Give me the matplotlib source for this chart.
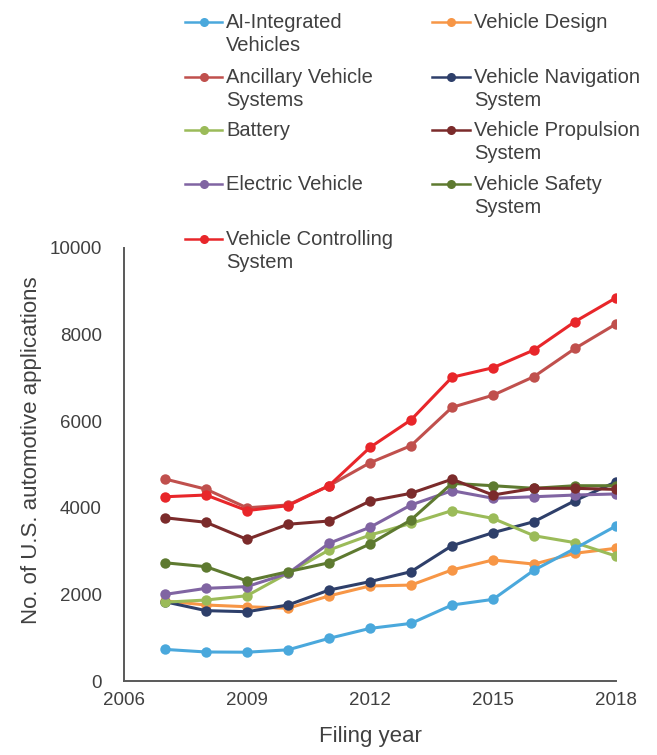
import numpy as np
import matplotlib
matplotlib.use('Agg')
import matplotlib.pyplot as plt
from matplotlib.lines import Line2D

plt.rcParams['font.family'] = ['Liberation Sans', 'DejaVu Sans']

# ── data ──────────────────────────────────────────────────────────────────────
years = [2007, 2008, 2009, 2010, 2011, 2012, 2013, 2014, 2015, 2016, 2017, 2018]

ai_integrated = [730, 670, 665, 720, 985, 1215, 1330, 1755, 1885, 2560, 3060, 3580]
ancillary     = [4665, 4430, 4000, 4065, 4510, 5040, 5435, 6320, 6600, 7030, 7680, 8245]
battery       = [1820, 1870, 1970, 2490, 3025, 3370, 3640, 3935, 3755, 3355, 3195, 2885]
electric      = [2000, 2140, 2180, 2485, 3180, 3550, 4065, 4395, 4220, 4255, 4295, 4320]
controlling   = [4255, 4295, 3935, 4050, 4510, 5395, 6030, 7015, 7235, 7645, 8300, 8850]
design        = [1850, 1755, 1715, 1680, 1965, 2195, 2215, 2565, 2795, 2700, 2950, 3065]
navigation    = [1830, 1625, 1600, 1755, 2100, 2295, 2525, 3125, 3425, 3680, 4165, 4600]
propulsion    = [3770, 3665, 3270, 3620, 3695, 4155, 4335, 4660, 4295, 4450, 4450, 4425]
safety        = [2730, 2640, 2310, 2525, 2730, 3165, 3720, 4565, 4510, 4450, 4510, 4510]

series = [
    ('AI-Integrated\nVehicles',        ai_integrated, '#4AA8DC'),
    ('Ancillary Vehicle\nSystems',     ancillary,     '#C0504D'),
    ('Battery',                        battery,       '#9BBB59'),
    ('Electric Vehicle',               electric,      '#8064A2'),
    ('Vehicle Controlling\nSystem',    controlling,   '#E8262A'),
    ('Vehicle Design',                 design,        '#F79646'),
    ('Vehicle Navigation\nSystem',     navigation,    '#2E3F6A'),
    ('Vehicle Propulsion\nSystem',     propulsion,    '#7B2B2B'),
    ('Vehicle Safety\nSystem',         safety,        '#5E7A30'),
]
# draw order: bottom-most lines first, red on top
draw_order = [5, 6, 2, 3, 8, 7, 0, 1, 4]

TXT = '#404040'
W, H = 657, 755

fig = plt.figure(figsize=(W / 100, H / 100), dpi=100)
ax = fig.add_axes([124 / W, 74 / H, 492 / W, 433 / H])

for i in draw_order:
    label, vals, col = series[i]
    ax.plot(years, vals, color=col, linewidth=2.2, marker='o',
            markersize=7.5, markeredgewidth=0)

ax.set_xlim(2006, 2018)
ax.set_ylim(0, 10000)
ax.set_xticks([2006, 2009, 2012, 2015, 2018])
ax.set_yticks([0, 2000, 4000, 6000, 8000, 10000])
ax.tick_params(axis='both', length=0, labelsize=13.5, colors=TXT)
ax.tick_params(axis='y', pad=16)
ax.tick_params(axis='x', pad=8)

for s in ('top', 'right'):
    ax.spines[s].set_visible(False)
for s in ('left', 'bottom'):
    ax.spines[s].set_color('#595959')
    ax.spines[s].set_linewidth(1.4)

ax.set_xlabel('Filing year', fontsize=16, color=TXT)
ax.set_ylabel('No. of U.S. automotive applications', fontsize=16, color=TXT)
ax.xaxis.set_label_coords(0.5, -0.105)
ax.yaxis.set_label_coords(-0.167, 0.533)

# ── legend, two columns above the axes ────────────────────────────────────────
col_x = [(185, 222, 226), (432, 470, 474)]   # line start, line end, text x
row_y = [22, 77, 130, 184, 239]
slots = [(0, 0), (0, 1), (0, 2), (0, 3), (0, 4),
         (1, 0), (1, 1), (1, 2), (1, 3)]

for (label, vals, col), (c, r) in zip(series, slots):
    x0, x1, xt = col_x[c]
    y = 1 - row_y[r] / H
    fig.add_artist(Line2D([x0 / W, x1 / W], [y, y], transform=fig.transFigure,
                          color=col, linewidth=1.8))
    fig.add_artist(Line2D([(x0 + x1) / 2 / W], [y], transform=fig.transFigure,
                          color=col, marker='o', markersize=6.5,
                          markeredgewidth=0, linestyle='none'))
    # first text line centred on the handle
    fig.text(xt / W, y + 9 / H, label, fontsize=14.5, color=TXT, va='top',
             ha='left', linespacing=1.25, transform=fig.transFigure)

fig.savefig('out.png', dpi=100)
